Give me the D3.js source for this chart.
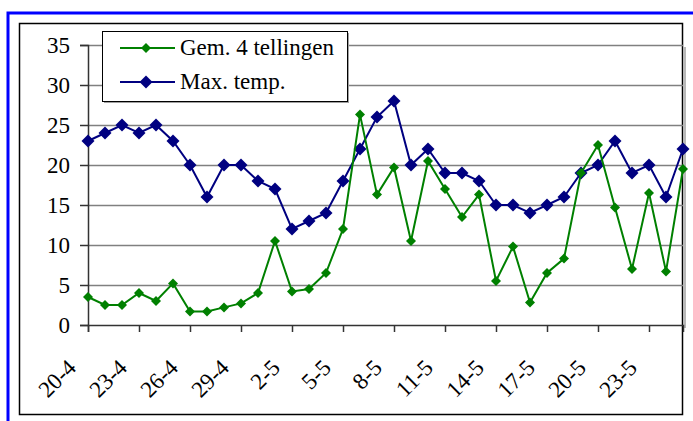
<!DOCTYPE html>
<html>
<head>
  <title>Tellingen en max. temp.</title>
</head>
<style>
  body { margin: 0; background: white; }
</style>
<body>
  <script src="https://d3js.org/d3.v7.min.js"></script>
  <script>
    // one category per day, 20 april - 25 mei
    const days = ["20-4","21-4","22-4","23-4","24-4","25-4","26-4","27-4","28-4","29-4","30-4",
                  "1-5","2-5","3-5","4-5","5-5","6-5","7-5","8-5","9-5","10-5","11-5","12-5",
                  "13-5","14-5","15-5","16-5","17-5","18-5","19-5","20-5","21-5","22-5","23-5","24-5","25-5"];
    const gem4 = [3.5, 2.5, 2.5, 4, 3, 5.2, 1.7, 1.7, 2.2, 2.7, 4, 10.5, 4.2, 4.5, 6.5, 12,
                  26.3, 16.3, 19.7, 10.5, 20.5, 17, 13.5, 16.3, 5.5, 9.8, 2.8, 6.5, 8.3, 19,
                  22.5, 14.7, 7, 16.5, 6.7, 19.5];
    const maxTemp = [23, 24, 25, 24, 25, 23, 20, 16, 20, 20, 18, 17, 12, 13, 14, 18,
                     22, 26, 28, 20, 22, 19, 19, 18, 15, 15, 14, 15, 16, 19,
                     20, 23, 19, 20, 16, 22];
    const xTickLabels = ["20-4","23-4","26-4","29-4","2-5","5-5","8-5","11-5","14-5","17-5","20-5","23-5"];
    const yTicks = [0, 5, 10, 15, 20, 25, 30, 35];

    const w = 693, h = 421;
    const pLeft = 88, pRight = 683, pTop = 45, pBottom = 325;
    const font = "'Liberation Serif', 'Times New Roman', serif";

    const svg = d3.select("body").append("svg")
      .attr("width", w).attr("height", h);

    // blue outer frame, runs off the picture at right and bottom
    svg.append("rect")
      .attr("x", 8).attr("y", 13).attr("width", 700).attr("height", 420)
      .attr("fill", "none").attr("stroke", "#0000ff").attr("stroke-width", 3);

    // chart area border
    svg.append("rect")
      .attr("x", 19.5).attr("y", 23.5).attr("width", 663).attr("height", 391)
      .attr("fill", "white").attr("stroke", "#000").attr("stroke-width", 1.5);

    const x = d3.scaleLinear().domain([0, days.length - 1]).range([pLeft, pRight]);
    const y = d3.scaleLinear().domain([0, 35]).range([pBottom, pTop]);

    // plot area shadow on the right
    svg.append("rect")
      .attr("x", pRight).attr("y", pTop + 2).attr("width", 3).attr("height", pBottom - pTop + 1)
      .attr("fill", "#b8b8b8");

    // gridlines
    svg.append("g")
      .selectAll("line")
      .data(yTicks.filter(d => d > 0))
      .join("line")
        .attr("x1", pLeft).attr("x2", pRight)
        .attr("y1", d => Math.round(y(d)) + 0.5).attr("y2", d => Math.round(y(d)) + 0.5)
        .attr("stroke", "#808080").attr("stroke-width", 1.5);

    // y axis
    const yAxis = svg.append("g")
      .attr("transform", "translate(" + pLeft + ",0)")
      .call(d3.axisLeft(y).tickValues(yTicks).tickSize(8).tickPadding(10));
    yAxis.select(".domain").attr("stroke", "#333").attr("stroke-width", 1.5);
    yAxis.selectAll(".tick line").attr("stroke", "#333").attr("stroke-width", 1.5);
    yAxis.selectAll("text")
      .style("font-family", font)
      .attr("font-size", 23).attr("fill", "#000");

    // x axis
    const tickIdx = xTickLabels.map(l => days.indexOf(l));
    const xAxis = svg.append("g")
      .attr("transform", "translate(0," + pBottom + ")")
      .call(d3.axisBottom(x).tickValues(tickIdx).tickSize(7).tickFormat(i => days[i]));
    xAxis.select(".domain").attr("stroke", "#333").attr("stroke-width", 1.5);
    xAxis.selectAll(".tick line").attr("stroke", "#333").attr("stroke-width", 1.5);
    xAxis.selectAll("text")
      .style("font-family", font)
      .attr("font-size", 23).attr("fill", "#000")
      .attr("x", 0).attr("y", 0).attr("dy", 0)
      .attr("text-anchor", "end")
      .attr("transform", "translate(-11,44) rotate(-45)");

    // series
    const series = [
      {name: "Max. temp.", values: maxTemp, color: "#000080", r: 6.5},
      {name: "Gem. 4 tellingen", values: gem4, color: "#008000", r: 5}
    ];
    const line = d3.line().x((d, i) => x(i)).y(d => y(d));

    series.forEach(s => {
      svg.append("path")
        .datum(s.values)
        .attr("d", line)
        .attr("fill", "none").attr("stroke", s.color).attr("stroke-width", 2);
      svg.append("g")
        .selectAll("path")
        .data(s.values)
        .join("path")
          .attr("d", d3.symbol(d3.symbolSquare, 2 * s.r * s.r))
          .attr("transform", (d, i) => "translate(" + x(i) + "," + y(d) + ") rotate(45)")
          .attr("fill", s.color);
    });

    // legend
    const lg = svg.append("g");
    lg.append("rect")
      .attr("x", 104).attr("y", 33).attr("width", 245).attr("height", 70)
      .attr("fill", "#a0a0a0");
    lg.append("rect")
      .attr("x", 102.5).attr("y", 31.5).attr("width", 245).attr("height", 70)
      .attr("fill", "white").attr("stroke", "#000").attr("stroke-width", 1);
    const legendRows = [series[1], series[0]];
    legendRows.forEach((s, k) => {
      const ly = 48 + k * 34;
      lg.append("line")
        .attr("x1", 120).attr("x2", 175).attr("y1", ly).attr("y2", ly)
        .attr("stroke", s.color).attr("stroke-width", 2);
      lg.append("path")
        .attr("d", d3.symbol(d3.symbolSquare, 2 * s.r * s.r))
        .attr("transform", "translate(146," + ly + ") rotate(45)")
        .attr("fill", s.color);
      lg.append("text")
        .attr("x", 180).attr("y", ly + 7)
        .attr("font-size", 23)
        .style("font-family", font)
        .text(s.name);
    });
  </script>
</body>
</html>
